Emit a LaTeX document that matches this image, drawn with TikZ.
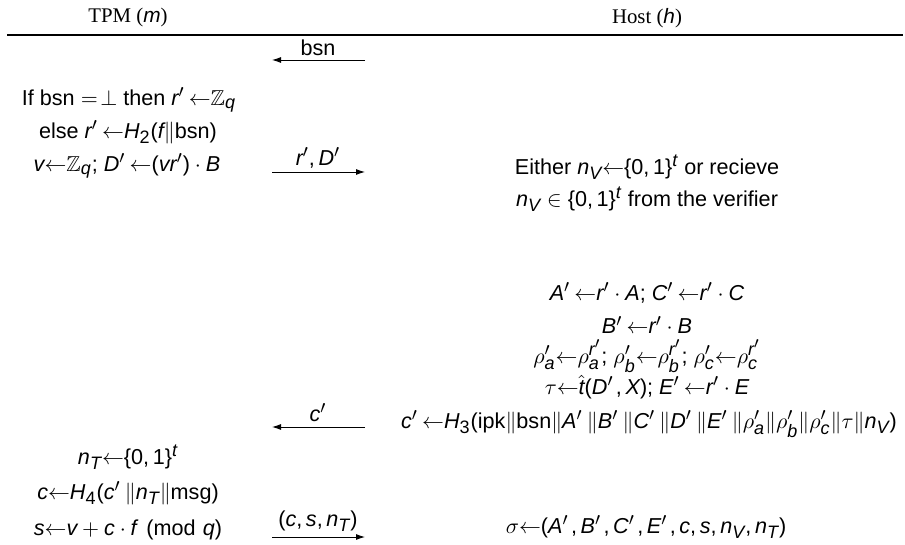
\documentclass[tikz,border=0pt]{standalone}
\usepackage{amsmath,amssymb}
\usepackage[no-math]{fontspec}
\setmainfont{Liberation Serif}
\setsansfont{Liberation Sans}
\renewcommand\familydefault{\sfdefault}
\usepackage[italic,noequal,noplusnominus]{mathastext}
\usetikzlibrary{arrows.meta}
\newcommand\pq{'\mkern3.5mu}
\newcommand\pc{'\mkern2mu}
\begin{document}
\begin{tikzpicture}[x=0.5pt,y=-0.5pt,
  txt/.style={inner sep=0pt, font=\fontsize{10.8}{12}\selectfont},
  hdr/.style={inner sep=0pt, font=\fontsize{10.4}{12}\selectfont\rmfamily},
  msgarrow/.style={-{Latex[length=4.5pt,width=3pt]}, line width=0.45pt},
  rulestyle/.style={line width=0.8pt}]
\useasboundingbox (0,0) rectangle (905,545);
% headers
\node[hdr] (tpm) at (128,18) {TPM ($m$)};
\node[hdr] (host) at (647,18) {Host ($h$)};
\coordinate (ruleL) at (7,35);
\coordinate (ruleR) at (903,35);
\draw[rulestyle] (ruleL) -- (ruleR);
% TPM column
\node[txt] (t1) at (129,100) {If $\text{bsn} =\!\bot$ then $r\pq{\leftarrow}\mathbb{Z}_q$};
\node[txt] (t2) at (128,132) {else $r\pq{\leftarrow}H_2(f\|\text{bsn})$};
\node[txt] (t3) at (127,166) {$v{\leftarrow}\mathbb{Z}_q$; $D\pq{\leftarrow}(vr')\cdot B$};
\node[txt] (t4) at (128,457) {$n_T{\leftarrow}\{0,1\}^t$};
\node[txt] (t5) at (128,493) {$c{\leftarrow}H_4(c\pq\|n_T\|\text{msg})$};
\node[txt] (t6) at (128,530) {$s{\leftarrow}v+c\cdot f \pmod q$};
% Host column
\node[txt] (h1) at (647,167) {Either $n_V{\leftarrow}\{0,1\}^t$ or recieve};
\node[txt] (h2) at (647,199) {$n_V\in\{0,1\}^t$ from the verifier};
\node[txt] (h3) at (647,293) {$A\pq{\leftarrow}r'\cdot A$; $C\pq{\leftarrow}r'\cdot C$};
\node[txt] (h4) at (647,325) {$B\pq{\leftarrow}r'\cdot B$};
\node[txt] (h5) at (647,356) {$\rho'_a{\leftarrow}\rho_a^{r'}$; $\rho'_b{\leftarrow}\rho_b^{r'}$; $\rho'_c{\leftarrow}\rho_c^{r'}$};
\node[txt] (h6) at (647,387) {$\tau{\leftarrow}\hat{t}(D\pc,X)$; $E\pq{\leftarrow}r'\cdot E$};
\node[txt] (h7) at (649,424) {$c\pq{\leftarrow}H_3(\text{ipk}\|\text{bsn}\|A\pq\|B\pq\|C\pq\|D\pq\|E\pq\|\rho'_a\|\rho'_b\|\rho'_c\|\tau\|n_V)$};
\node[txt] (h8) at (646,527) {$\sigma{\leftarrow}(A\pc,B\pc,C\pc,E\pc,c,s,n_V,n_T)$};
% messages
\coordinate (m1r) at (365,60); \coordinate (m1l) at (272,60);
\draw[msgarrow] (m1r) -- (m1l);
\node[txt] (l1) at (318,48) {bsn};
\coordinate (m2l) at (272,172); \coordinate (m2r) at (365,172);
\draw[msgarrow] (m2l) -- (m2r);
\node[txt] (l2) at (318,158) {$r',D'$};
\coordinate (m3r) at (365,427); \coordinate (m3l) at (272,427);
\draw[msgarrow] (m3r) -- (m3l);
\node[txt] (l3) at (318,413) {$c'$};
\coordinate (m4l) at (272,537); \coordinate (m4r) at (365,537);
\draw[msgarrow] (m4l) -- (m4r);
\node[txt] (l4) at (318,521) {$(c,s,n_T)$};
\end{tikzpicture}
\end{document}
